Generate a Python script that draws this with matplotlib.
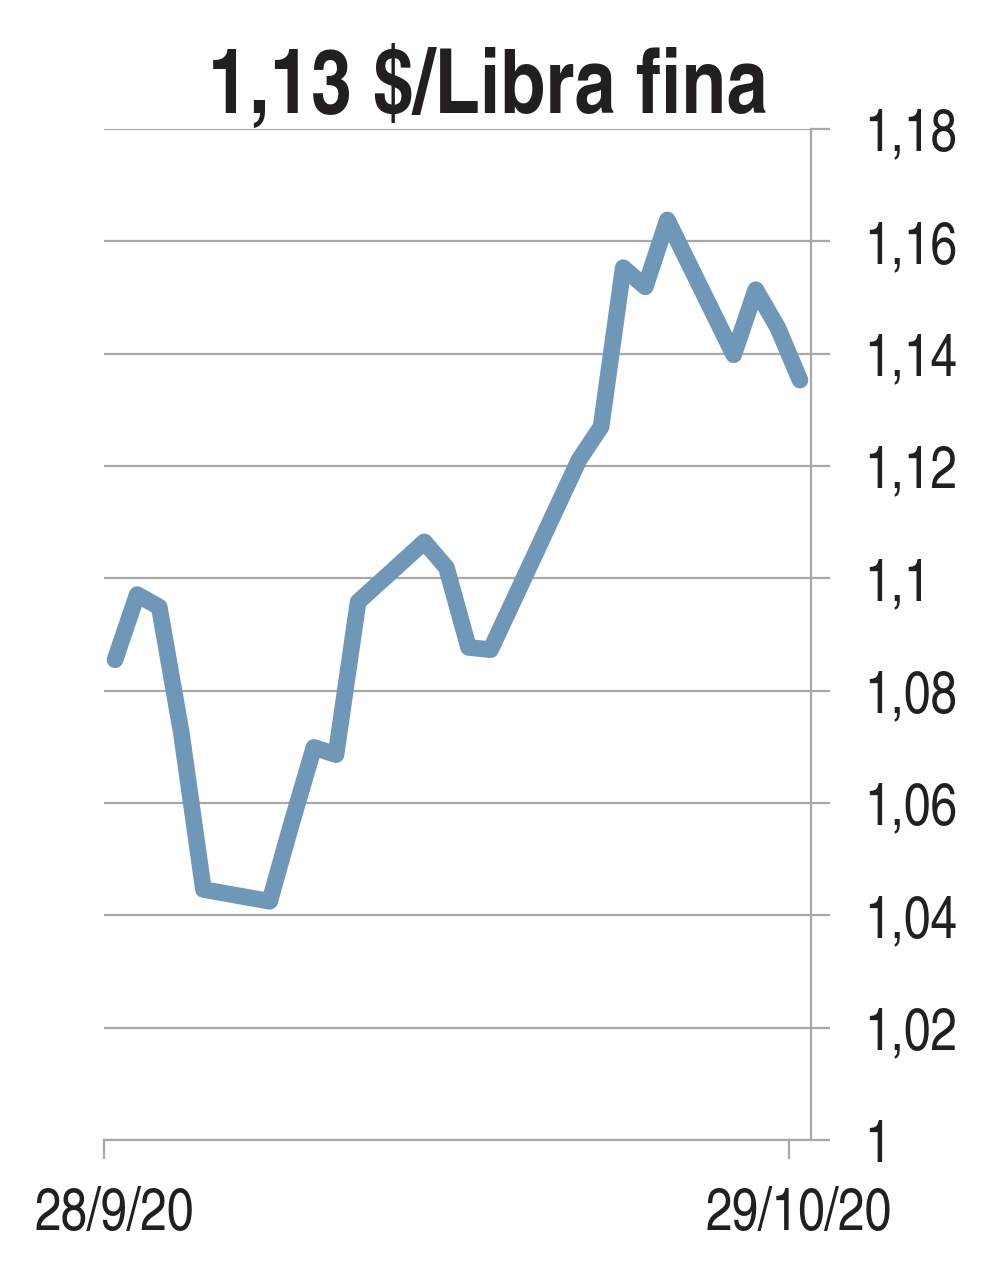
import matplotlib
matplotlib.use("Agg")
import matplotlib.pyplot as plt
import matplotlib.transforms as mtransforms
import pandas as pd

# ---- data ----
dates = ['28/9/2020', '29/9/2020', '30/9/2020', '1/10/2020', '2/10/2020',
         '5/10/2020', '6/10/2020', '7/10/2020', '8/10/2020', '9/10/2020',
         '12/10/2020', '13/10/2020', '14/10/2020', '15/10/2020',
         '19/10/2020', '20/10/2020', '21/10/2020', '22/10/2020', '23/10/2020',
         '26/10/2020', '27/10/2020', '28/10/2020', '29/10/2020']
values = [1.0855, 1.0971, 1.0949, 1.0725, 1.0446,
          1.0425, 1.0565, 1.0699, 1.0686, 1.0958,
          1.1065, 1.1019, 1.0877, 1.0873,
          1.1211, 1.1270, 1.1553, 1.1519, 1.1638,
          1.1398, 1.1514, 1.1446, 1.1353]
x_tick_labels = ['28/9/20', '29/10/20']
y_ticks = [1.00, 1.02, 1.04, 1.06, 1.08, 1.10, 1.12, 1.14, 1.16, 1.18]
title = '1,13 $/Libra fina'

font = ['TeX Gyre Heros Cn', 'Liberation Sans', 'DejaVu Sans']

txt_color = '#231f20'
grid_color = '#a8a8a8'
line_color = '#6f97b8'

d = pd.to_datetime(pd.Series(dates), dayfirst=True)
start = d.iloc[0]
days = (d - start).dt.days.to_numpy()
end_day = (pd.to_datetime('29/10/2020', dayfirst=True) - start).days

fig = plt.figure(figsize=(10, 12.64), dpi=100)
ax = fig.add_axes([0.104, 1 - 1140 / 1264, 0.707, (1140 - 129) / 1264])

ax.plot(days + 0.5, values, color=line_color, lw=12,
        solid_joinstyle='round', solid_capstyle='round', zorder=3, clip_on=False)

ax.set_xlim(0, end_day + 1)
ax.set_ylim(1.00, 1.18)

for s in ['left', 'top']:
    ax.spines[s].set_visible(False)
for s in ['right', 'bottom']:
    ax.spines[s].set_color(grid_color)
    ax.spines[s].set_linewidth(1.6)

ax.yaxis.tick_right()
ax.set_yticks(y_ticks)
ax.set_yticklabels([f"{v:g}".replace('.', ',') for v in y_ticks],
                   fontfamily=font, fontsize=42, color=txt_color)
ax.tick_params(axis='y', direction='out', length=13.5, width=1.6, color=grid_color, pad=25)
ax.yaxis.grid(True, color=grid_color, lw=1.6, zorder=0)

ax.set_xticks([0, end_day])
ax.set_xticklabels(x_tick_labels, fontfamily=font, fontsize=42, color=txt_color)
ax.tick_params(axis='x', direction='out', length=13.5, width=1.6, color=grid_color, pad=20)
offset = mtransforms.ScaledTranslation(10 / 100, 0, fig.dpi_scale_trans)
for lab in ax.get_xticklabels():
    lab.set_transform(lab.get_transform() + offset)

fig.text(0.488, 1 - 113 / 1264, title, ha='center', va='baseline',
         fontfamily=font, fontweight='bold', fontsize=65, color=txt_color)

fig.savefig('out.png', dpi=100, facecolor='white')
